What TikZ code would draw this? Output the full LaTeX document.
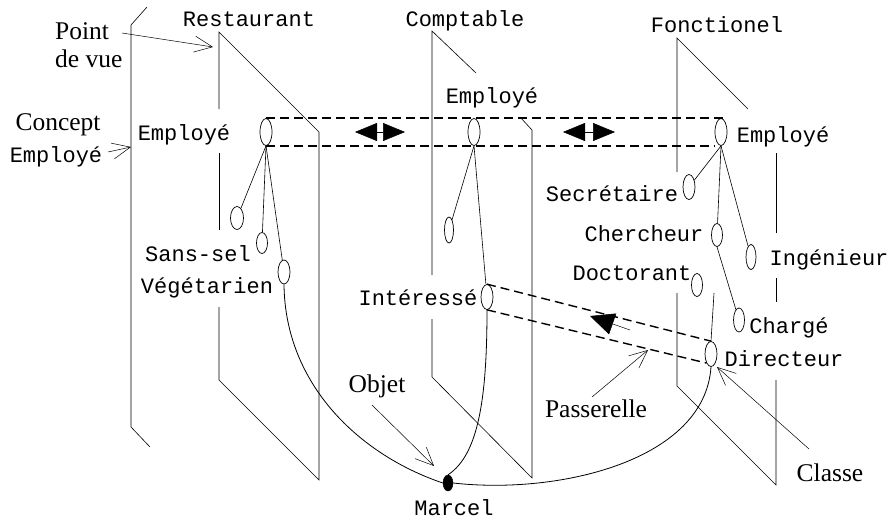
\documentclass[tikz,border=0pt]{standalone}
\usepackage{fontspec}
\setmainfont{Liberation Serif}
\newfontfamily\monof{Liberation Mono}
\usetikzlibrary{shapes.geometric,arrows.meta}
\begin{document}
\begin{tikzpicture}[x=1pt,y=-1pt,
  ln/.style={line width=0.6pt},
  ov/.style={draw,ellipse,line width=0.7pt,inner sep=0pt,minimum width=12pt,minimum height=25pt},
  mt/.style={font=\monof\fontsize{22}{24}\selectfont,inner sep=0pt,anchor=base},
  st/.style={font=\fontsize{25.5}{27}\selectfont,inner sep=0pt,anchor=base},
  dsh/.style={line width=1.4pt,dash pattern=on 9pt off 5pt},
  ptr/.style={line width=0.5pt,-{Straight Barb[length=18pt,width=16pt]}},
  dbl/.style={line width=0.5pt,{Triangle[length=22pt,width=18pt]}-{Triangle[length=22pt,width=18pt]}},
  tri/.style={line width=0.5pt,-{Triangle[length=24pt,width=22pt]}}
]
\useasboundingbox (0,0) rectangle (891,520);

% planes
\draw[ln] (147,7) -- (131,25) -- (131,427) -- (150,447);
\draw[ln] (219,109) -- (219,32) -- (319,132) -- (319,480) -- (219,380) -- (219,307);
\draw[ln] (219,153) -- (219,230);
\draw[ln] (476,73) -- (432,31) -- (432,275);
\draw[ln] (520,117) -- (532,130) -- (532,478) -- (432,377) -- (432,319);
\draw[ln] (748,109) -- (677,38) -- (677,172);
\draw[ln] (677,293) -- (677,386) -- (776,485) -- (776,380);
\draw[ln] (776,153) -- (776,233);
\draw[ln] (776,278) -- (776,302);

% labels
\node[mt] (lrest) at (249,26) {Restaurant};
\node[mt] (lcomp) at (465,26) {Comptable};
\node[mt] (lfonc) at (717,32) {Fonctionel};
\node[mt] (lemp1) at (184,140) {Employé};
\node[mt] (lemp2) at (492,103) {Employé};
\node[mt] (lemp3) at (783,142) {Employé};
\node[st] (lconc) at (58,130) {Concept};
\node[mt] (lemp0) at (56,162) {Employé};
\node[st,anchor=base west] (lpoint) at (55,39) {Point};
\node[st,anchor=base west] (lvue) at (55,67) {de vue};
\node[mt] (lsans) at (198,261) {Sans-sel};
\node[mt] (lveg) at (207,293) {Végétarien};
\node[mt] (lint) at (418,305) {Intéressé};
\node[mt] (lsec) at (612,201) {Secrétaire};
\node[mt] (lcher) at (644,241) {Chercheur};
\node[mt] (ldoc) at (632,280) {Doctorant};
\node[mt] (ling) at (829,265) {Ingénieur};
\node[mt] (lcharg) at (789,333) {Chargé};
\node[mt] (ldir) at (784,366) {Directeur};
\node[mt] (lmarcel) at (454,515) {Marcel};
\node[st] (lobjet) at (377,392) {Objet};
\node[st] (lpass) at (596,417) {Passerelle};
\node[st] (lclasse) at (830,481) {Classe};

% ellipses
\node[ov,minimum height=27pt] (e1) at (266,132) {};
\node[ov,minimum height=27pt] (e2) at (474,132) {};
\node[ov,minimum height=27pt] (e3) at (721,132) {};
\node[ov,minimum width=13pt,minimum height=23pt] (r1) at (237,218) {};
\node[ov,minimum width=11pt,minimum height=21pt] (r2) at (262,243) {};
\node[ov,minimum height=24pt] (r3) at (284,272) {};
\node[ov,minimum width=9pt,minimum height=26pt] (c1) at (449,230) {};
\node[ov] (int) at (487,297) {};
\node[ov] (sec) at (689,187) {};
\node[ov,minimum width=11pt,minimum height=23pt] (cher) at (717,235) {};
\node[ov,minimum width=10pt] (ing) at (751,257) {};
\node[ov,minimum width=11pt,minimum height=23pt] (doc) at (697,285) {};
\node[ov,minimum width=11pt,minimum height=24pt] (charg) at (739,320) {};
\node[ov] (dir) at (711,354) {};
\node[draw,fill,ellipse,inner sep=0pt,minimum width=10pt,minimum height=16pt] (marcel) at (448,483) {};

% tree connectors
\draw[ln] (e1.south) -- (r1);
\draw[ln] (e1.south) -- (r2);
\draw[ln] (e1.south) -- (r3);
\draw[ln] (e2.south) -- (c1);
\draw[ln] (e2.south) -- (int);
\draw[ln] (e3.south) -- (sec);
\draw[ln] (e3.south) -- (cher);
\draw[ln] (e3.south) -- (ing);
\draw[ln] (cher.south) -- (charg);
\coordinate (dtop) at (714,293);
\draw[ln] (dtop) -- (dir.north);

% dashed bridges
\draw[dsh] (e1.north) -- (e1.north -| e3.east);
\draw[dsh] (e1.south) -- (e1.south -| e3.west);
\draw[dsh] (int.north) -- (dir.north);
\draw[dsh] (int.south) -- (dir.south west);

% double arrows
\coordinate (da1) at (355,132); \coordinate (da2) at (405,132);
\coordinate (db1) at (563,132); \coordinate (db2) at (615,132);
\draw[dbl] (da1) -- (da2);
\draw[dbl] (db1) -- (db2);
\coordinate (pa1) at (630,330); \coordinate (pa2) at (590,316);
\draw[tri] (pa1) -- (pa2);

% object curves
\draw[line width=0.8pt] (r3.south) .. controls (285,385) and (360,455) .. (marcel.west);
\draw[line width=0.8pt] (marcel.east) .. controls (560,495) and (705,460) .. (dir.south);
\draw[line width=0.8pt] (int.south) .. controls (487,400) and (478,455) .. (marcel.north);

% pointers
\coordinate (pvt) at (213,47);
\draw[ptr] (122,33) -- (pvt);
\coordinate (cct) at (131,147);
\draw[ptr] (108,152) -- (cct);
\coordinate (obt) at (434,466);
\draw[ptr] (372,405) -- (obt);
\coordinate (pst) at (648,350);
\draw[ptr] (592,397) -- (pst);
\coordinate (clt) at (717,367);
\draw[ptr] (809,449) -- (clt);
\end{tikzpicture}
\end{document}
